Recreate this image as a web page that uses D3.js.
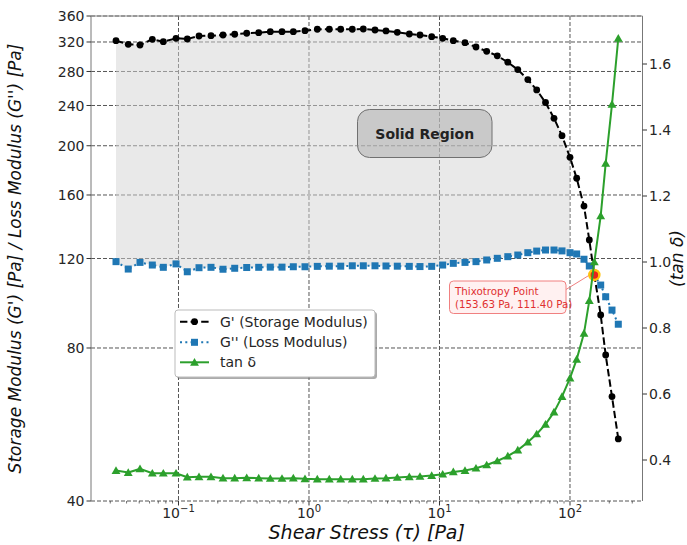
<!DOCTYPE html>
<html><head><meta charset="utf-8">
<script src="https://cdn.jsdelivr.net/npm/d3@7/dist/d3.min.js"></script>
<style>
html,body{margin:0;padding:0;background:#fff;}
svg{display:block;font-family:"DejaVu Sans",sans-serif;}
</style></head>
<body>
<svg id="c" width="687" height="545"></svg>
<script>
// ---- data ----
const stress = [0.0332, 0.0412, 0.0507, 0.0630, 0.0765, 0.0957, 0.1168, 0.1436, 0.1774, 0.2193,
  0.2696, 0.3332, 0.4117, 0.5051, 0.6211, 0.7583, 0.9318, 1.158, 1.431, 1.750,
  2.147, 2.607, 3.204, 3.890, 4.750, 5.870, 7.089, 8.714, 10.58, 12.76,
  15.68, 19.04, 23.00, 27.73, 33.38, 39.81, 47.50, 55.57, 64.93, 75.41,
  86.85, 100.0, 112.5, 128.0, 140.6, 153.63, 171.9, 187.7, 209.8, 234.5];
const storageModulus = [321.9, 316.7, 315.7, 323.9, 320.4, 325.4, 324.4, 328.8, 329.3, 330.3,
  331.4, 332.9, 333.8, 335.3, 335.3, 335.3, 336.8, 339.0, 339.0, 339.0,
  339.0, 339.4, 337.9, 336.4, 334.4, 331.8, 330.3, 327.8, 325.4, 321.9,
  319.0, 312.8, 306.8, 300.6, 292.0, 282.4, 269.9, 257.5, 243.3, 226.5,
  209.3, 189.8, 172.6, 152.2, 130.5, 111.4, 92.9, 77.5, 64.2, 53.0];
const lossModulus = [118.3, 114.4, 117.9, 116.5, 115.3, 117.1, 113.0, 115.1, 115.3, 114.3,
  114.8, 115.2, 115.3, 115.4, 115.4, 115.6, 115.6, 115.8, 115.9, 115.9,
  116.1, 116.1, 116.1, 116.0, 115.9, 115.8, 115.7, 115.8, 116.5, 117.4,
  117.9, 118.3, 119.2, 120.1, 121.0, 121.9, 123.2, 124.1, 124.7, 124.7,
  124.2, 123.2, 122.5, 119.6, 116.0, 111.4, 106.4, 100.9, 95.0, 89.1];
const tanDelta = [0.368, 0.362, 0.373, 0.360, 0.360, 0.360, 0.348, 0.349, 0.349, 0.345,
  0.345, 0.346, 0.345, 0.344, 0.344, 0.345, 0.343, 0.342, 0.342, 0.342,
  0.342, 0.342, 0.344, 0.345, 0.347, 0.349, 0.350, 0.353, 0.357, 0.364,
  0.368, 0.375, 0.385, 0.397, 0.412, 0.430, 0.454, 0.479, 0.508, 0.545,
  0.592, 0.648, 0.705, 0.784, 0.883, 1.000, 1.140, 1.299, 1.478, 1.678];
const solidRegionEnd = 41; // fill from first point up to this index
const thixo = {x: 153.63, y: 111.40};
const leftTicks = [40, 80, 120, 160, 200, 240, 280, 320, 360];
const rightTicks = [0.4, 0.6, 0.8, 1.0, 1.2, 1.4, 1.6];
const xTicks = [0.1, 1, 10, 100];
const xTickExp = ["−1", "0", "1", "2"];
const legendLabels = ["G' (Storage Modulus)", "G'' (Loss Modulus)", "tan δ"];

// ---- layout ----
const L = 91, R = 642.5, T = 16, B = 501;
const svg = d3.select("#c");
const x = d3.scaleLog().domain([Math.pow(10, -1.6705), Math.pow(10, 2.5556)]).range([L, R]);
const y = d3.scaleLog().domain([40, 360]).range([B, T]);
const y2 = d3.scaleLinear().domain([0.2758, 1.7455]).range([B, T]);

const gridColor = "#555";
const dash = "4,2";
const g = svg.append("g");

// grid
g.selectAll(".hg").data(leftTicks).join("line")
  .attr("x1", L).attr("x2", R).attr("y1", d => y(d)).attr("y2", d => y(d))
  .attr("stroke", gridColor).attr("stroke-width", 1).attr("stroke-dasharray", dash);
g.selectAll(".vg").data(xTicks).join("line")
  .attr("x1", d => x(d)).attr("x2", d => x(d)).attr("y1", T).attr("y2", B)
  .attr("stroke", gridColor).attr("stroke-width", 1).attr("stroke-dasharray", dash);

// fill (solid region)
const idx = d3.range(0, solidRegionEnd + 1);
const area = d3.area().x(i => x(stress[i])).y0(i => y(lossModulus[i])).y1(i => y(storageModulus[i]));
g.append("path").attr("d", area(idx)).attr("fill", "#d3d3d3").attr("fill-opacity", 0.5);

// spines
g.append("line").attr("x1", L).attr("x2", L).attr("y1", T).attr("y2", B).attr("stroke", "#777");
g.append("line").attr("x1", R).attr("x2", R).attr("y1", T).attr("y2", B).attr("stroke", "#777");
g.append("line").attr("x1", L).attr("x2", R).attr("y1", T).attr("y2", T).attr("stroke", "#888");

// axes ticks
const tickColor = "#333", labelColor = "#262626";
leftTicks.forEach(v => {
  g.append("line").attr("x1", L - 4.5).attr("x2", L).attr("y1", y(v)).attr("y2", y(v)).attr("stroke", tickColor);
  g.append("text").attr("x", L - 6.5).attr("y", y(v)).attr("dy", "0.36em").attr("text-anchor", "end")
    .attr("font-size", 14).attr("fill", labelColor).text(v);
});
rightTicks.forEach(v => {
  g.append("line").attr("x1", R).attr("x2", R + 4.5).attr("y1", y2(v)).attr("y2", y2(v)).attr("stroke", tickColor);
  g.append("text").attr("x", R + 6.5).attr("y", y2(v)).attr("dy", "0.36em").attr("text-anchor", "start")
    .attr("font-size", 14).attr("fill", labelColor).text(v.toFixed(1));
});
xTicks.forEach((v, i) => {
  g.append("line").attr("x1", x(v)).attr("x2", x(v)).attr("y1", B).attr("y2", B + 4.5).attr("stroke", tickColor);
  const t = g.append("text").attr("x", x(v)).attr("y", B + 17).attr("text-anchor", "middle")
    .attr("font-size", 14).attr("fill", labelColor);
  t.append("tspan").text("10");
  t.append("tspan").attr("dy", -6).attr("font-size", 10).text(xTickExp[i]);
});
// minor x ticks
const [d0, d1] = x.domain();
for (let e = -2; e <= 2; e++) {
  for (let m = 2; m <= 9; m++) {
    const v = m * Math.pow(10, e);
    if (v > d0 && v < d1) {
      g.append("line").attr("x1", x(v)).attr("x2", x(v)).attr("y1", B).attr("y2", B + 2.5)
        .attr("stroke", tickColor).attr("stroke-width", 0.7);
    }
  }
}

// axis labels
svg.append("text").attr("x", (L + R) / 2).attr("y", 539).attr("text-anchor", "middle")
  .attr("font-size", 19).attr("font-style", "italic").attr("fill", "#111").text("Shear Stress (τ) [Pa]");
svg.append("text").attr("transform", `translate(21,${(T + B) / 2}) rotate(-90)`).attr("text-anchor", "middle")
  .attr("font-size", 17).attr("font-style", "italic").attr("fill", "#111")
  .text("Storage Modulus (G') [Pa] / Loss Modulus (G'') [Pa]");
svg.append("text").attr("transform", `translate(683,${(T + B) / 2}) rotate(-90)`).attr("text-anchor", "middle")
  .attr("font-size", 17).attr("font-style", "italic").attr("fill", "#111").text("(tan δ)");

// Solid Region label
const sb = {x0: 357.5, y0: 109.5, x1: 492, y1: 157.5};
g.append("rect").attr("x", sb.x0).attr("y", sb.y0).attr("width", sb.x1 - sb.x0).attr("height", sb.y1 - sb.y0)
  .attr("rx", 12).attr("fill", "#a9a9a9").attr("fill-opacity", 0.5).attr("stroke", "#707070").attr("stroke-width", 1);
g.append("text").attr("x", (sb.x0 + sb.x1) / 2).attr("y", (sb.y0 + sb.y1) / 2).attr("dy", "0.36em")
  .attr("text-anchor", "middle").attr("font-size", 14).attr("font-weight", "bold").attr("fill", "#222").text("Solid Region");

// series
const all = d3.range(stress.length);
const lineG1 = d3.line().x(i => x(stress[i])).y(i => y(storageModulus[i]));
const lineG2 = d3.line().x(i => x(stress[i])).y(i => y(lossModulus[i]));
const lineT = d3.line().x(i => x(stress[i])).y(i => y2(tanDelta[i]));

g.append("path").attr("d", lineG1(all)).attr("fill", "none").attr("stroke", "#000").attr("stroke-width", 2)
  .attr("stroke-dasharray", "7.4,3.2");
g.selectAll(".p1").data(all).join("circle").attr("cx", i => x(stress[i])).attr("cy", i => y(storageModulus[i]))
  .attr("r", 3.4).attr("fill", "#000");

g.append("path").attr("d", lineG2(all)).attr("fill", "none").attr("stroke", "#1f77b4").attr("stroke-width", 2)
  .attr("stroke-dasharray", "2,3.3");
g.selectAll(".p2").data(all).join("rect").attr("x", i => x(stress[i]) - 3.5).attr("y", i => y(lossModulus[i]) - 3.5)
  .attr("width", 7).attr("height", 7).attr("fill", "#1f77b4");

// thixotropy point
g.append("line").attr("x1", 566).attr("y1", 289.5).attr("x2", x(thixo.x) - 3).attr("y2", y(thixo.y) - 1)
  .attr("stroke", "#f08080").attr("stroke-width", 1);
g.append("circle").attr("cx", x(thixo.x)).attr("cy", y(thixo.y)).attr("r", 5)
  .attr("fill", "#e8201c").attr("stroke", "#ffc20e").attr("stroke-width", 2.5);

g.append("path").attr("d", lineT(all)).attr("fill", "none").attr("stroke", "#2ca02c").attr("stroke-width", 2);
const tri = d3.symbol().type(d3.symbolTriangle).size(34);
g.selectAll(".p3").data(all).join("path").attr("d", tri)
  .attr("transform", i => `translate(${x(stress[i])},${y2(tanDelta[i]) + 0.8})`).attr("fill", "#2ca02c");

// annotation box
const ab = {x0: 449.5, y0: 281, x1: 566, y1: 313.5};
g.append("rect").attr("x", ab.x0).attr("y", ab.y0).attr("width", ab.x1 - ab.x0).attr("height", ab.y1 - ab.y0)
  .attr("rx", 4).attr("fill", "#fff0f0").attr("fill-opacity", 0.9).attr("stroke", "#f08080").attr("stroke-width", 1);
g.append("text").attr("x", 455).attr("y", 294.5).attr("font-size", 10.3).attr("fill", "#e03030").text("Thixotropy Point");
g.append("text").attr("x", 455).attr("y", 307.5).attr("font-size", 10.3).attr("fill", "#e03030")
  .text(`(${thixo.x.toFixed(2)} Pa, ${thixo.y.toFixed(2)} Pa)`);

// legend
const lg = {x0: 175, y0: 310, x1: 375, y1: 377};
g.append("rect").attr("x", lg.x0 + 2).attr("y", lg.y0 + 2).attr("width", lg.x1 - lg.x0).attr("height", lg.y1 - lg.y0)
  .attr("rx", 3).attr("fill", "#666").attr("fill-opacity", 0.55);
g.append("rect").attr("x", lg.x0).attr("y", lg.y0).attr("width", lg.x1 - lg.x0).attr("height", lg.y1 - lg.y0)
  .attr("rx", 3).attr("fill", "#fff").attr("stroke", "#bbb").attr("stroke-width", 1);
const rows = [321.7, 342.3, 362.3];
// G'
g.append("line").attr("x1", 180).attr("x2", 209).attr("y1", rows[0]).attr("y2", rows[0]).attr("stroke", "#000")
  .attr("stroke-width", 2).attr("stroke-dasharray", "7.4,3.2");
g.append("circle").attr("cx", 194.5).attr("cy", rows[0]).attr("r", 3.4).attr("fill", "#000");
// G''
g.append("line").attr("x1", 180).attr("x2", 209).attr("y1", rows[1]).attr("y2", rows[1]).attr("stroke", "#1f77b4")
  .attr("stroke-width", 2).attr("stroke-dasharray", "2,3.3");
g.append("rect").attr("x", 191).attr("y", rows[1] - 3.5).attr("width", 7).attr("height", 7).attr("fill", "#1f77b4");
// tan
g.append("line").attr("x1", 180).attr("x2", 209).attr("y1", rows[2]).attr("y2", rows[2]).attr("stroke", "#2ca02c")
  .attr("stroke-width", 2);
g.append("path").attr("d", tri).attr("transform", `translate(194.5,${rows[2] + 0.8})`).attr("fill", "#2ca02c");
legendLabels.forEach((t, i) => {
  g.append("text").attr("x", 220).attr("y", rows[i]).attr("dy", "0.36em").attr("font-size", 14)
    .attr("fill", labelColor).text(t);
});
</script>
</body></html>
